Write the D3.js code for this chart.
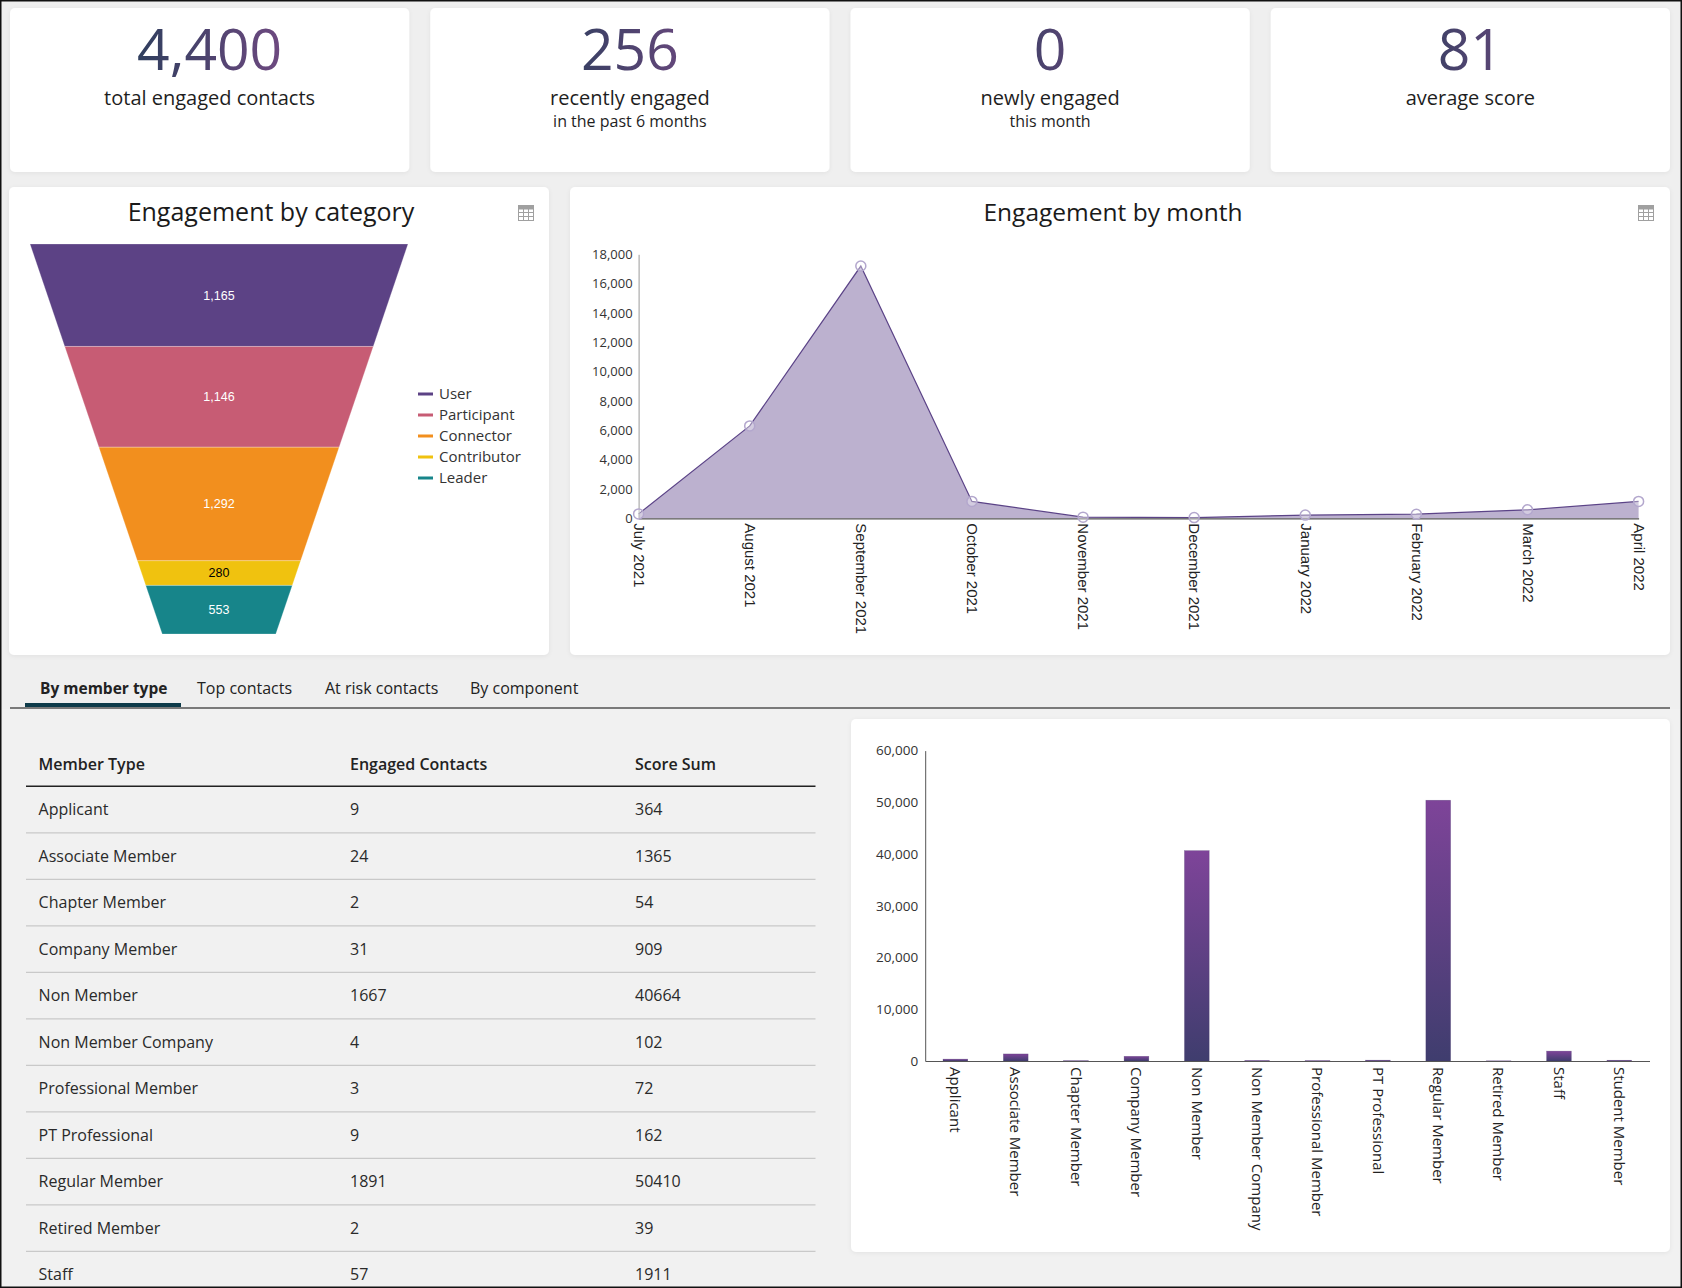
<!DOCTYPE html>
<html>
<head>
<meta charset="utf-8">
<script src="https://cdn.jsdelivr.net/npm/d3@7"></script>
<style>
  html, body { margin: 0; padding: 0; background: #efefef; }
  svg { display: block; }
</style>
</head>
<body>
<svg id="dash" width="1682" height="1288"></svg>
<script>
// ---------------- DATA ----------------
const kpiValues = [4400, 256, 0, 81];
const kpiLabels = ["total engaged contacts", "recently engaged", "newly engaged", "average score"];
const kpiSublabels = ["", "in the past 6 months", "this month", ""];

const funnelCategories = ["User", "Participant", "Connector", "Contributor", "Leader"];
const funnelValues = [1165, 1146, 1292, 280, 553];
const funnelColors = ["#5c4285", "#c75c74", "#f28f1e", "#f0c20f", "#17858a"];
const funnelLabelColors = ["#fff", "#fff", "#fff", "#000", "#fff"];

const months = ["July 2021", "August 2021", "September 2021", "October 2021", "November 2021",
  "December 2021", "January 2022", "February 2022", "March 2022", "April 2022"];
const monthValues = [300, 6300, 17200, 1150, 80, 50, 220, 280, 580, 1150];
const monthTicks = [0, 2000, 4000, 6000, 8000, 10000, 12000, 14000, 16000, 18000];

const tabLabels = ["By member type", "Top contacts", "At risk contacts", "By component"];
const tableHeaders = ["Member Type", "Engaged Contacts", "Score Sum"];
const memberTypes = ["Applicant", "Associate Member", "Chapter Member", "Company Member", "Non Member",
  "Non Member Company", "Professional Member", "PT Professional", "Regular Member", "Retired Member",
  "Staff", "Student Member"];
const engagedContacts = [9, 24, 2, 31, 1667, 4, 3, 9, 1891, 2, 57];
const scoreSums = [364, 1365, 54, 909, 40664, 102, 72, 162, 50410, 39, 1911, 150];
const barTicks = [0, 10000, 20000, 30000, 40000, 50000, 60000];

// ---------------- SETUP ----------------
const FONT = "'Open Sans', 'Noto Sans', sans-serif";
const ARIAL = "'Liberation Sans', Arial, sans-serif";
const svg = d3.select("#dash");
const defs = svg.append("defs");

const shadow = defs.append("filter").attr("id", "shadow").attr("x", "-5%").attr("y", "-5%").attr("width", "110%").attr("height", "110%");
shadow.append("feDropShadow").attr("dx", 0).attr("dy", 1).attr("stdDeviation", 2).attr("flood-color", "#000").attr("flood-opacity", 0.06);

const barGrad = defs.append("linearGradient").attr("id", "barGrad").attr("x1", 0).attr("y1", 0).attr("x2", 0).attr("y2", 1);
barGrad.append("stop").attr("offset", "0%").attr("stop-color", "#7e4499");
barGrad.append("stop").attr("offset", "100%").attr("stop-color", "#3f3d6e");

svg.append("rect").attr("width", 1682).attr("height", 1288).attr("fill", "#efefef");
svg.append("rect").attr("y", 709).attr("width", 1682).attr("height", 579).attr("fill", "#f1f1f1");

function card(x, y, w, h) {
  svg.append("rect").attr("x", x).attr("y", y).attr("width", w).attr("height", h)
    .attr("rx", 5).attr("fill", "#fff").attr("filter", "url(#shadow)");
}

function tableIcon(x, y) {
  const g = svg.append("g").attr("transform", `translate(${x},${y})`).attr("stroke", "#a0a0a0").attr("fill", "none").attr("stroke-width", 1);
  g.append("rect").attr("x", 0.5).attr("y", 0.5).attr("width", 15).attr("height", 15).attr("fill", "#fff");
  g.append("rect").attr("x", 0.5).attr("y", 0.5).attr("width", 15).attr("height", 3.5).attr("fill", "#a0a0a0");
  [5.5, 10.5].forEach(v => g.append("line").attr("x1", v).attr("x2", v).attr("y1", 4).attr("y2", 15.5));
  [7.5, 11.5].forEach(v => g.append("line").attr("x1", 0.5).attr("x2", 15.5).attr("y1", v).attr("y2", v));
}

// ---------------- KPI CARDS ----------------
const kpiX = d3.scaleBand().domain(d3.range(kpiValues.length)).range([10, 1670]).paddingInner(0.05);
kpiValues.forEach((v, i) => {
  const x0 = kpiX(i), w = kpiX.bandwidth(), cx = x0 + w / 2;
  card(x0, 8, w, 164);
  const gid = "kpiGrad" + i;
  const lg = defs.append("linearGradient").attr("id", gid).attr("gradientUnits", "userSpaceOnUse")
    .attr("x1", cx - 85).attr("x2", cx + 85).attr("y1", 0).attr("y2", 0);
  lg.append("stop").attr("offset", "0%").attr("stop-color", "#2a3d5b");
  lg.append("stop").attr("offset", "100%").attr("stop-color", "#734a83");
  svg.append("text").attr("x", cx).attr("y", 70).attr("text-anchor", "middle")
    .style("font-family", FONT).style("font-size", "57px").style("font-weight", 500)
    .attr("fill", `url(#${gid})`).text(d3.format(",")(v));
  svg.append("text").attr("x", cx).attr("y", 105).attr("text-anchor", "middle")
    .style("font-family", FONT).style("font-size", "20px").attr("fill", "#1e1e1e").text(kpiLabels[i]);
  if (kpiSublabels[i]) {
    svg.append("text").attr("x", cx).attr("y", 127).attr("text-anchor", "middle")
      .style("font-family", FONT).style("font-size", "16px").attr("fill", "#1e1e1e").text(kpiSublabels[i]);
  }
});

// ---------------- FUNNEL ----------------
card(9, 187, 540, 468);
svg.append("text").attr("x", 271).attr("y", 221).attr("text-anchor", "middle")
  .style("font-family", FONT).style("font-size", "25px").style("font-weight", 500).attr("fill", "#1a1a1a")
  .text("Engagement by category");
tableIcon(518, 205);

const fTotal = d3.sum(funnelValues);
const fCum = d3.cumsum(funnelValues);
const fY = d3.scaleLinear().domain([0, fTotal]).range([244, 634]);
const fHalf = d3.scaleLinear().domain([0, fTotal]).range([189, 56.8]);
const fCx = 219;
const fg = svg.append("g");
funnelValues.forEach((v, i) => {
  const a = fCum[i] - v, b = fCum[i];
  const pts = [[fCx - fHalf(a), fY(a)], [fCx + fHalf(a), fY(a)], [fCx + fHalf(b), fY(b)], [fCx - fHalf(b), fY(b)]];
  fg.append("path").attr("d", d3.line()(pts) + "Z").attr("fill", funnelColors[i])
    .attr("stroke", "#fff").attr("stroke-width", 0.4).attr("stroke-opacity", 0.6);
  fg.append("text").attr("x", fCx).attr("y", (fY(a) + fY(b)) / 2).attr("dy", "0.35em").attr("text-anchor", "middle")
    .style("font-family", ARIAL).style("font-size", "12.5px").attr("fill", funnelLabelColors[i])
    .text(d3.format(",")(v));
});
const legY = d3.scalePoint().domain(funnelCategories).range([394, 478]);
funnelCategories.forEach((c, i) => {
  svg.append("rect").attr("x", 418).attr("y", legY(c) - 1.5).attr("width", 15).attr("height", 3).attr("fill", funnelColors[i]);
  svg.append("text").attr("x", 439).attr("y", legY(c)).attr("dy", "0.35em")
    .style("font-family", FONT).style("font-size", "15px").attr("fill", "#333").text(c);
});

// ---------------- AREA CHART ----------------
card(570, 187, 1100, 468);
svg.append("text").attr("x", 1113).attr("y", 221).attr("text-anchor", "middle")
  .style("font-family", FONT).style("font-size", "24.5px").style("font-weight", 500).attr("fill", "#1a1a1a")
  .text("Engagement by month");
tableIcon(1638, 205);

const ax = d3.scalePoint().domain(months).range([638.6, 1638.6]);
const ay = d3.scaleLinear().domain([0, 18000]).range([518.3, 254.3]);
const ag = svg.append("g");
ag.append("path").datum(monthValues)
  .attr("d", d3.area().x((d, i) => ax(months[i])).y0(ay(0)).y1(d => ay(d)))
  .attr("fill", "#bcb1cf");
ag.append("path").datum(monthValues)
  .attr("d", d3.line().x((d, i) => ax(months[i])).y(d => ay(d)))
  .attr("fill", "none").attr("stroke", "#5b4387").attr("stroke-width", 1.2);

const yAxisA = ag.append("g").attr("transform", `translate(${ax.range()[0]},0)`)
  .call(d3.axisLeft(ay).tickValues(monthTicks).tickSize(0).tickPadding(6).tickFormat(d3.format(",")));
yAxisA.select(".domain").attr("stroke", "#9a9a9a");
yAxisA.selectAll("text").style("font-family", FONT).style("font-size", "13px").attr("fill", "#333");

const xAxisA = ag.append("g").attr("transform", `translate(0,${ay(0)})`)
  .call(d3.axisBottom(ax).tickSize(0).tickSizeOuter(0));
xAxisA.select(".domain").attr("stroke", "#555").attr("stroke-width", 1.2);
xAxisA.selectAll("text").attr("transform", "rotate(90)").attr("x", 5).attr("y", 0).attr("dy", "0.35em")
  .style("text-anchor", "start").style("font-family", ARIAL).style("font-size", "15px").attr("fill", "#222");

ag.selectAll("circle.pt").data(monthValues).enter().append("circle")
  .attr("cx", (d, i) => ax(months[i])).attr("cy", d => ay(d)).attr("r", 5)
  .attr("fill", "#fff").attr("fill-opacity", 0.35).attr("stroke", "#b3a7cd").attr("stroke-width", 1.5);

// ---------------- TABS ----------------
const tabX = [40, 197, 325, 470];
tabLabels.forEach((t, i) => {
  svg.append("text").attr("x", tabX[i]).attr("y", 694)
    .style("font-family", FONT).style("font-size", i === 0 ? "15.5px" : "16px").style("font-weight", i === 0 ? 700 : 400)
    .attr("fill", "#222").text(t);
});
svg.append("rect").attr("x", 10).attr("y", 707).attr("width", 1660).attr("height", 2).attr("fill", "#7a7a7a");
svg.append("rect").attr("x", 25).attr("y", 703).attr("width", 156).attr("height", 4).attr("fill", "#0e3b4a");

// ---------------- TABLE ----------------
const colX = [38.6, 350, 635];
const rowH = 46.5, headLine = 786.3;
tableHeaders.forEach((h, i) => {
  svg.append("text").attr("x", colX[i]).attr("y", 764).attr("dy", "0.35em")
    .style("font-family", FONT).style("font-size", "16px").style("font-weight", 600).attr("fill", "#222").text(h);
});
svg.append("line").attr("x1", 26).attr("x2", 815.5).attr("y1", headLine).attr("y2", headLine)
  .attr("stroke", "#222").attr("stroke-width", 1.5);
engagedContacts.forEach((c, i) => {
  const cy = headLine + rowH * (i + 0.5);
  [memberTypes[i], String(c), String(scoreSums[i])].forEach((t, j) => {
    svg.append("text").attr("x", colX[j]).attr("y", cy).attr("dy", "0.35em")
      .style("font-family", FONT).style("font-size", "16px").attr("fill", "#2a2a2a").text(t);
  });
  const ly = headLine + rowH * (i + 1);
  if (ly < 1288) {
    svg.append("line").attr("x1", 26).attr("x2", 815.5).attr("y1", ly).attr("y2", ly)
      .attr("stroke", "#c9c9c9").attr("stroke-width", 1.2);
  }
});

// ---------------- BAR CHART ----------------
card(851, 719, 819, 533);
const bx = d3.scaleBand().domain(memberTypes).range([925.2, 1649.5]).paddingInner(0.59).paddingOuter(0.295);
const by = d3.scaleLinear().domain([0, 60000]).range([1061, 750.6]);
const bg = svg.append("g");
bg.selectAll("rect.bar").data(scoreSums).enter().append("rect")
  .attr("x", (d, i) => bx(memberTypes[i])).attr("width", bx.bandwidth())
  .attr("y", d => by(d)).attr("height", d => by(0) - by(d))
  .attr("fill", "url(#barGrad)").attr("stroke", "#4a3a6e").attr("stroke-width", 0.5).attr("stroke-opacity", 0.5);
const yAxisB = bg.append("g").attr("transform", `translate(${bx.range()[0]},0)`)
  .call(d3.axisLeft(by).tickValues(barTicks).tickSize(0).tickPadding(7).tickFormat(d3.format(",")));
yAxisB.select(".domain").attr("stroke", "#555");
yAxisB.selectAll("text").style("font-family", FONT).style("font-size", "13.5px").attr("fill", "#333");
const xAxisB = bg.append("g").attr("transform", `translate(0,${by(0)})`)
  .call(d3.axisBottom(bx).tickSize(0).tickSizeOuter(0));
xAxisB.select(".domain").attr("stroke", "#555");
xAxisB.selectAll("text").attr("transform", "rotate(90)").attr("x", 6).attr("y", 0).attr("dy", "0.35em")
  .style("text-anchor", "start").style("font-family", FONT).style("font-size", "15px").attr("fill", "#222");

// ---------------- OUTER BORDER ----------------
svg.append("rect").attr("x", 0.75).attr("y", 0.75).attr("width", 1680.5).attr("height", 1286.5)
  .attr("fill", "none").attr("stroke", "#111").attr("stroke-width", 1.5);
</script>
</body>
</html>
